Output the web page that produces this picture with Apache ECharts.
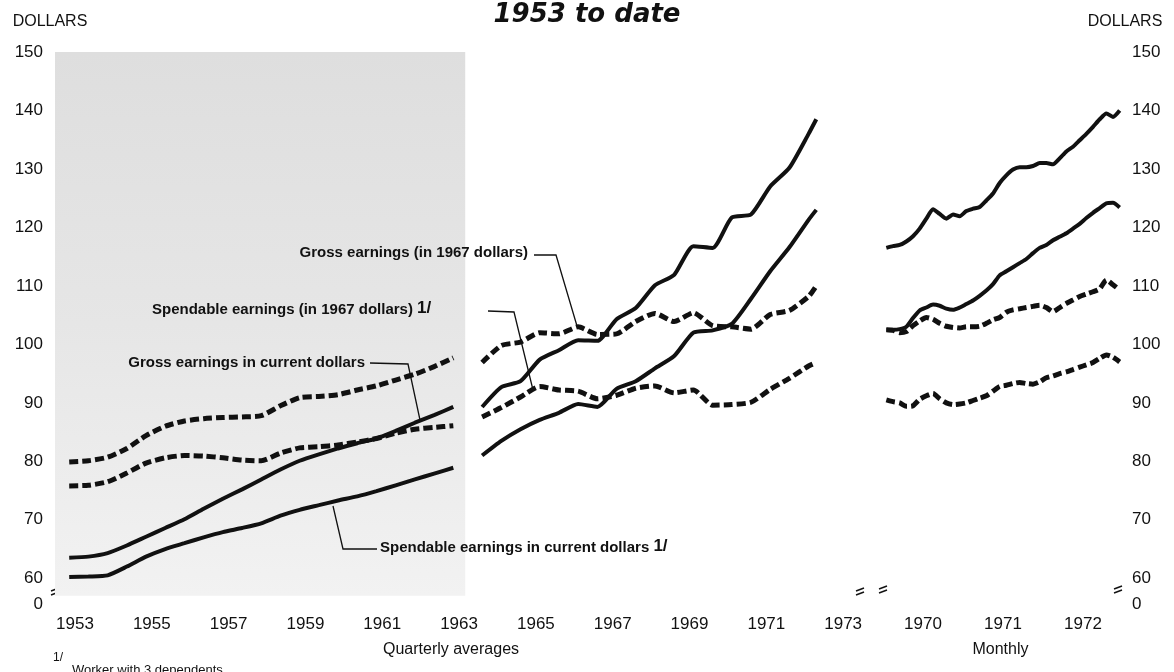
<!DOCTYPE html>
<html>
<head>
<meta charset="utf-8">
<title>Earnings, 1953 to date</title>
<script src="https://cdn.jsdelivr.net/npm/echarts@6.0.0/dist/echarts.min.js"></script>
<style>
  html, body { margin: 0; padding: 0; background: #fff; }
  #chart { width: 1174px; height: 672px; }
</style>
</head>
<body>
<div id="chart"></div>
<script>
// quarterly averages, first block (x = position on the year axis, label at mid-year)
const earlyX = [1953.35, 1953.85, 1954.35, 1954.85, 1955.35, 1955.85, 1956.35, 1956.85, 1957.35, 1957.85,
  1958.35, 1958.85, 1959.35, 1959.85, 1960.35, 1960.85, 1961.35, 1961.85, 1962.35, 1962.85, 1963.35]
const gross67Early = [79.9, 80.1, 80.7, 82.2, 84.4, 86.0, 86.9, 87.3, 87.5, 87.6, 87.8, 89.5, 90.9, 91.1, 91.4, 92.2, 92.9, 93.9, 94.9, 96.2, 97.7]
const spend67Early = [75.8, 75.9, 76.5, 78.0, 79.7, 80.6, 81.0, 80.9, 80.6, 80.2, 80.1, 81.4, 82.3, 82.5, 82.8, 83.3, 83.9, 84.8, 85.5, 85.8, 86.1]
const grossCurEarly = [63.5, 63.7, 64.3, 65.6, 67.1, 68.6, 70.1, 71.9, 73.6, 75.2, 76.9, 78.6, 80.1, 81.2, 82.2, 83.1, 83.9, 85.2, 86.6, 87.9, 89.3]
const spendCurEarly = [60.2, 60.3, 60.5, 62.0, 63.7, 65.0, 66.0, 67.0, 67.9, 68.6, 69.4, 70.7, 71.7, 72.5, 73.3, 74.0, 74.9, 75.9, 76.9, 77.9, 78.9]

// quarterly averages, second block
const lateX = [1964.1, 1964.6, 1965.1, 1965.6, 1966.1, 1966.6, 1967.1, 1967.6, 1968.1, 1968.6,
  1969.1, 1969.6, 1970.1, 1970.6, 1971.1, 1971.6, 1972.1, 1972.6, 1972.8]
const gross67Late = [96.9, 99.8, 100.4, 102.0, 101.8, 103.0, 101.7, 101.8, 103.9, 105.3, 103.9, 105.4, 103.2, 103.0, 102.6, 105.1, 105.8, 108.2, 110.0]
const spend67Late = [87.6, 89.2, 91.0, 92.8, 92.2, 92.0, 90.7, 91.3, 92.5, 92.9, 91.7, 92.2, 89.6, 89.7, 90.1, 92.3, 94.2, 96.3, 96.9]
const grossCurLate = [89.3, 92.7, 93.7, 97.4, 99.0, 100.7, 100.6, 104.3, 106.2, 110.1, 111.9, 116.8, 116.5, 121.7, 122.2, 127.0, 130.2, 136.0, 138.5]
const spendCurLate = [81.0, 83.5, 85.5, 87.1, 88.3, 89.8, 89.3, 92.4, 93.7, 95.9, 98.0, 102.0, 102.4, 103.5, 107.8, 112.5, 116.6, 121.3, 123.0]

// monthly, Jan 1970 - Dec 1972
const monthX = Array.from({ length: 36 }, (_, i) => 1970 + (i + 0.5) / 12)
const grossCurMonthly = [116.5, 116.8, 117.0, 117.6, 118.5, 119.8, 121.5, 123.1, 122.3, 121.5, 122.2, 121.9,
  122.8, 123.2, 123.5, 124.6, 125.8, 127.6, 128.9, 129.9, 130.3, 130.3, 130.5, 131.0,
  131.0, 130.8, 131.8, 133.0, 133.8, 134.9, 136.0, 137.2, 138.5, 139.5, 138.9, 140.0]
const spendCurMonthly = [102.5, 102.5, 102.6, 103.0, 104.5, 105.8, 106.3, 106.8, 106.6, 106.1, 105.9, 106.3,
  106.9, 107.5, 108.3, 109.2, 110.3, 111.8, 112.5, 113.2, 113.9, 114.6, 115.6, 116.5,
  117.0, 117.8, 118.4, 119.0, 119.8, 120.6, 121.6, 122.5, 123.3, 124.1, 124.2, 123.4]
const gross67Monthly = [102.5, 102.4, 102.0, 102.2, 103.2, 104.0, 104.6, 104.3, 103.6, 103.1, 102.9, 102.8,
  103.0, 103.0, 103.1, 103.6, 104.2, 104.6, 105.5, 105.9, 106.1, 106.3, 106.5, 106.7,
  106.3, 105.6, 106.3, 107.0, 107.6, 108.2, 108.6, 109.0, 109.5, 111.0, 110.2, 109.3]
const spend67Monthly = [90.5, 90.2, 90.0, 89.4, 89.5, 90.6, 91.2, 91.6, 90.7, 90.0, 89.7, 89.8,
  90.0, 90.4, 90.8, 91.2, 92.0, 92.8, 93.0, 93.3, 93.5, 93.3, 93.2, 93.6,
  94.3, 94.6, 95.0, 95.3, 95.7, 96.1, 96.5, 96.9, 97.6, 98.2, 97.8, 97.0]

// tick labels
const yTicks = [55.6, 60, 70, 80, 90, 100, 110, 120, 130, 140, 150]
const quarterTicks = [1953.5, 1955.5, 1957.5, 1959.5, 1961.5, 1963.5, 1965.5, 1967.5, 1969.5, 1971.5, 1973.5]
const monthTicks = [1970.5, 1971.5, 1972.5]

const chart = echarts.init(document.getElementById('chart'))
const ink = '#111'
const font = 'Liberation Sans, Arial, sans-serif'
const solid = { color: ink, width: 4, type: 'solid' }
const dashed = { color: ink, width: 5, type: [9, 4] }

function line(xs, ys, style, idx) {
  return {
    type: 'line',
    xAxisIndex: idx,
    yAxisIndex: idx,
    data: xs.map((x, i) => [x, ys[i]]),
    symbol: 'none',
    smooth: 0.2,
    lineStyle: style,
    silent: true,
    animation: false,
    z: 3,
  }
}

const yLabel = {
  customValues: yTicks,
  showMinLabel: true,
  showMaxLabel: true,
  fontSize: 17,
  fontFamily: font,
  color: ink,
  margin: 7,
  formatter: (v) => (v < 60 ? '0' : String(Math.round(v))),
}
const xLabel = (ticks) => ({
  customValues: ticks,
  fontSize: 17,
  fontFamily: font,
  color: ink,
  margin: 12,
  formatter: (v) => String(Math.floor(v)),
})
const nameStyle = { fontSize: 16, fontFamily: font, color: ink, verticalAlign: 'middle' }

// left block shading (the speckled screen of the original)
const shade = line(earlyX, grossCurEarly, { width: 0, opacity: 0 }, 0)
shade.z = 1
shade.markArea = {
  silent: true,
  z: 1,
  itemStyle: {
    color: new echarts.graphic.LinearGradient(0, 0, 0, 1, [
      { offset: 0, color: '#dedede' },
      { offset: 0.5, color: '#e6e6e6' },
      { offset: 1, color: '#f2f2f2' },
    ]),
  },
  data: [[{ xAxis: 1952.98, yAxis: 150 }, { xAxis: 1963.66, yAxis: 57 }]],
}

const breakMark = (cx, cy) => ({
  type: 'group',
  z: 100,
  children: [
    { type: 'line', shape: { x1: cx - 4, y1: cy - 1, x2: cx + 4, y2: cy - 4 }, style: { stroke: ink, lineWidth: 1.4 } },
    { type: 'line', shape: { x1: cx - 4, y1: cy + 3, x2: cx + 4, y2: cy }, style: { stroke: ink, lineWidth: 1.4 } },
  ],
})
const leader = (pts) => ({ type: 'polyline', z: 100, shape: { points: pts }, style: { stroke: ink, lineWidth: 1.3, fill: null } })
const note = (x, y, text, align) => ({
  type: 'text', x, y, z: 100,
  style: {
    text, align, verticalAlign: 'middle', fill: ink,
    font: 'bold 15px ' + font,
    rich: { n: { fontSize: 17, fontWeight: 'bold', fontFamily: font, fill: ink, padding: [0, 0, 4, 0] } },
  },
})

chart.setOption({
  animation: false,
  backgroundColor: '#fff',
  title: {
    text: '1953 to date',
    left: 'center',
    top: -3,
    textStyle: { fontSize: 26, fontWeight: 'bold', fontStyle: 'italic', fontFamily: 'DejaVu Sans', color: ink },
  },
  grid: [
    { left: 50, right: 322, top: 52, bottom: 68 },
    { left: 876, right: 49, top: 52, bottom: 68 },
  ],
  xAxis: [
    {
      type: 'value', gridIndex: 0, min: 1952.85, max: 1973.73,
      axisLine: { show: false }, axisTick: { show: false }, splitLine: { show: false },
      axisLabel: xLabel(quarterTicks),
      name: 'Quarterly averages', nameLocation: 'middle', nameGap: 46, nameTextStyle: nameStyle,
    },
    {
      type: 'value', gridIndex: 1, min: 1969.9125, max: 1973.025,
      axisLine: { show: false }, axisTick: { show: false }, splitLine: { show: false },
      axisLabel: xLabel(monthTicks),
      name: 'Monthly', nameLocation: 'middle', nameGap: 46, nameTextStyle: nameStyle,
    },
  ],
  yAxis: [
    {
      type: 'value', gridIndex: 0, min: 55.6, max: 150, position: 'left',
      axisLine: { show: false }, axisTick: { show: false }, splitLine: { show: false },
      axisLabel: Object.assign({}, yLabel, { align: 'right' }),
      name: 'DOLLARS', nameLocation: 'end', nameGap: 30, nameTextStyle: nameStyle,
    },
    {
      type: 'value', gridIndex: 1, min: 55.6, max: 150, position: 'right',
      axisLine: { show: false }, axisTick: { show: false }, splitLine: { show: false },
      axisLabel: Object.assign({}, yLabel, { align: 'left' }),
      name: 'DOLLARS', nameLocation: 'end', nameGap: 30, nameTextStyle: nameStyle,
    },
  ],
  series: [
    shade,
    line(earlyX, gross67Early, dashed, 0),
    line(earlyX, spend67Early, dashed, 0),
    line(earlyX, grossCurEarly, solid, 0),
    line(earlyX, spendCurEarly, solid, 0),
    line(lateX, gross67Late, dashed, 0),
    line(lateX, spend67Late, dashed, 0),
    line(lateX, grossCurLate, solid, 0),
    line(lateX, spendCurLate, solid, 0),
    line(monthX, grossCurMonthly, solid, 1),
    line(monthX, spendCurMonthly, solid, 1),
    line(monthX, gross67Monthly, dashed, 1),
    line(monthX, spend67Monthly, dashed, 1),
  ],
  graphic: [
    note(528, 253, 'Gross earnings (in 1967 dollars)', 'right'),
    leader([[534, 255], [556, 255], [577, 326]]),
    note(152, 310, 'Spendable earnings (in 1967 dollars) {n|1/}', 'left'),
    leader([[488, 311], [514, 312], [533, 390]]),
    note(365, 363, 'Gross earnings in current dollars', 'right'),
    leader([[370, 363], [408, 364], [420, 420]]),
    note(380, 548, 'Spendable earnings in current dollars {n|1/}', 'left'),
    leader([[377, 549], [343, 549], [333, 506]]),
    { type: 'text', x: 53, y: 652, z: 100, style: { text: '1/', font: '12px ' + font, fill: ink } },
    { type: 'text', x: 72, y: 664, z: 100, style: { text: 'Worker with 3 dependents', font: '13px ' + font, fill: ink } },
    breakMark(55, 592),
    breakMark(860, 592),
    breakMark(883, 590),
    breakMark(1118, 590),
  ],
})
</script>
</body>
</html>
